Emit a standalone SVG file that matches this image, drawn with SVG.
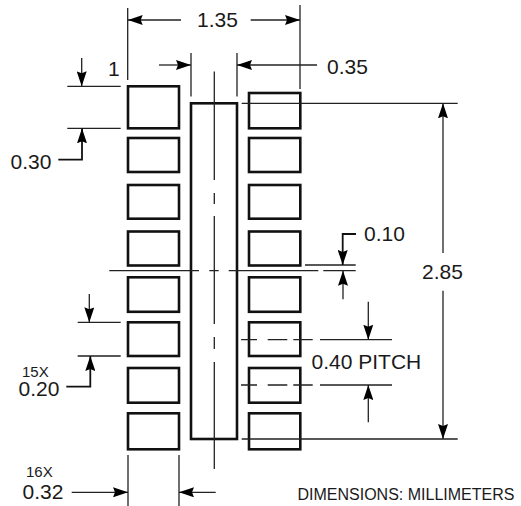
<svg xmlns="http://www.w3.org/2000/svg" width="521" height="506" viewBox="0 0 521 506">
<style>
text{font-family:"Liberation Sans",Arial,sans-serif;fill:#1a1a1a;font-size:21px}
.s{font-size:15px}.d{font-size:16px}
.p{fill:#fff;stroke:#111;stroke-width:2.6}
.l{fill:none;stroke:#222;stroke-width:1.3}
.t{fill:none;stroke:#111;stroke-width:1.8}
</style>
<defs>
<marker id="a" markerUnits="userSpaceOnUse" markerWidth="15" markerHeight="10" refX="15" refY="5" orient="auto-start-reverse"><path d="M0 0L15 5L0 10L2 5Z" fill="#000"/></marker>
</defs>
<g id="pads-left">
<rect class="p" x="128" y="86.300" width="51" height="42"/>
<rect class="p" x="128" y="138" width="51" height="34"/>
<rect class="p" x="128" y="185" width="51" height="33.700"/>
<rect class="p" x="128" y="231.500" width="51" height="34"/>
<rect class="p" x="128" y="277.300" width="51" height="34.500"/>
<rect class="p" x="128" y="322.300" width="51" height="33.700"/>
<rect class="p" x="128" y="368" width="51" height="34.700"/>
<rect class="p" x="128" y="413.300" width="51" height="36"/>
</g>
<g id="pads-right">
<rect class="p" x="249" y="93" width="51.300" height="35.300"/>
<rect class="p" x="249" y="138" width="51.300" height="34"/>
<rect class="p" x="249" y="185" width="51.300" height="33.700"/>
<rect class="p" x="249" y="231.500" width="51.300" height="34"/>
<rect class="p" x="249" y="277.300" width="51.300" height="34.500"/>
<rect class="p" x="249" y="322.300" width="51.300" height="33.700"/>
<rect class="p" x="249" y="368" width="51.300" height="34.700"/>
<rect class="p" x="249" y="413.300" width="51.300" height="36"/>
</g>
<g id="center-pad"><rect class="p" x="191" y="103.300" width="46" height="335.700"/></g>
<g id="connectors">
<path class="l" d="M127.700 8V80M300 5V89M191 53V96.500M237 53V96.500"/>
<path class="l" d="M181 20H127.700" marker-end="url(#a)"/>
<path class="l" d="M250.700 20H300" marker-end="url(#a)"/>
<path class="l" d="M159 65H191" marker-end="url(#a)"/>
<path class="l" d="M317 65H237" marker-end="url(#a)"/>
<path class="l" d="M214.300 71.500V180M214.300 193V204M214.300 216V324M214.300 337V349M214.300 362V469"/>
<path class="l" d="M67.300 86.300H120.700M67.300 128.300H120.700M77.700 322.300H120.700M77.700 356H120.700"/>
<path class="l" d="M81.700 58V86.300" marker-end="url(#a)"/>
<path class="t" d="M58.300 159.700H82V128.300" marker-end="url(#a)"/>
<path class="l" d="M89.300 294V322.300" marker-end="url(#a)"/>
<path class="t" d="M66.300 386.700H90.300V356" marker-end="url(#a)"/>
<path class="l" d="M241.700 103.300H457.700M241.700 439H457.700"/>
<path class="l" d="M443 253V103.300" marker-end="url(#a)"/>
<path class="l" d="M443 290.700V439" marker-end="url(#a)"/>
<path class="l" d="M109.300 270.700H199M209.300 270.700H218.700M228.700 270.700H318.300M323.300 270.700H355.700M305 265H355.700"/>
<path class="t" d="M356 234H342.700V265" marker-end="url(#a)"/>
<path class="l" d="M343 299.300V270.700" marker-end="url(#a)"/>
<path class="l" d="M241 339.700H257M267.700 339.700H287.300M293.300 339.700H312.700M320 339.700H392M241 385H257M267.700 385H287.300M293.300 385H312.700M320 385H392"/>
<path class="l" d="M368.300 301.700V339.700" marker-end="url(#a)"/>
<path class="l" d="M368.300 422.300V385" marker-end="url(#a)"/>
<path class="l" d="M128 455V506M179 455V506"/>
<path class="l" d="M71.700 492.300H128" marker-end="url(#a)"/>
<path class="l" d="M215.700 492.300H179" marker-end="url(#a)"/>
</g>
<g id="labels">
<text x="197" y="27">1.35</text>
<text x="108" y="76">1</text>
<text x="327" y="74">0.35</text>
<text x="10.500" y="169">0.30</text>
<text x="364" y="241">0.10</text>
<text x="422" y="279">2.85</text>
<text x="311.500" y="369">0.40 PITCH</text>
<text class="s" x="22" y="377">15X</text>
<text x="18.500" y="396">0.20</text>
<text class="s" x="26" y="477">16X</text>
<text x="22.500" y="499">0.32</text>
<text class="d" x="297.500" y="500">DIMENSIONS: MILLIMETERS</text>
</g>
</svg>
